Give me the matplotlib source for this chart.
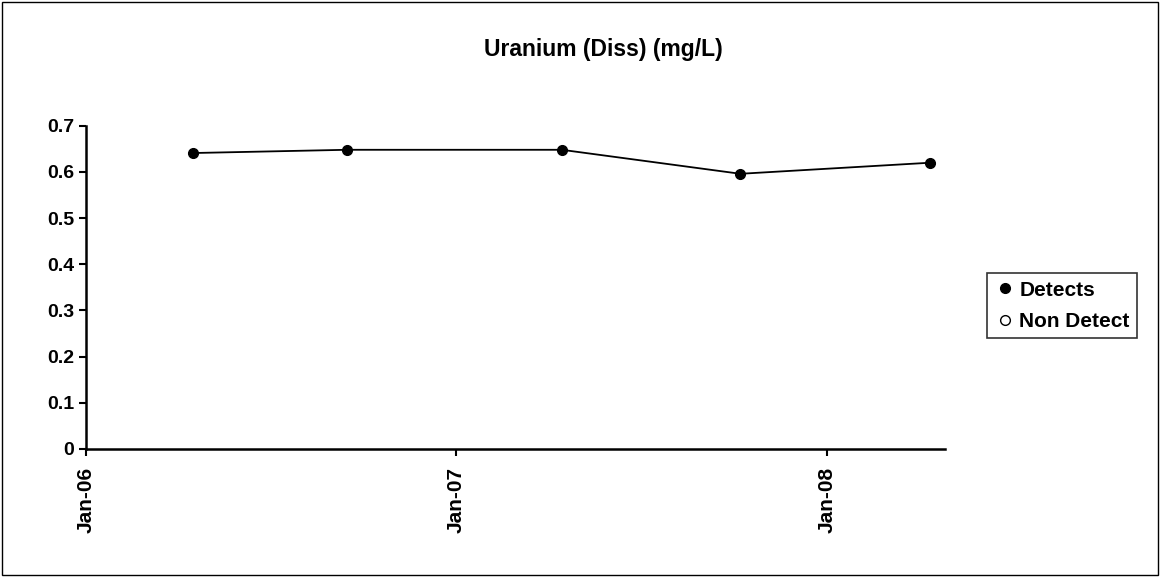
import matplotlib
matplotlib.use('Agg')
import matplotlib.pyplot as plt
import matplotlib.dates as mdates
from matplotlib.lines import Line2D
import numpy as np

plt.rcParams['font.family'] = ['Liberation Sans', 'DejaVu Sans']
plt.rcParams['font.weight'] = 'bold'

# 数据
dates = np.array(['2006-04-17', '2006-09-15', '2007-04-15', '2007-10-08', '2008-04-12'],
                 dtype='datetime64[D]')
uranium = [0.641, 0.648, 0.648, 0.596, 0.620]
x_ticks = np.array(['2006-01-01', '2007-01-01', '2008-01-01'], dtype='datetime64[D]')

fig = plt.figure(figsize=(11.6, 5.77), dpi=100)
ax = fig.add_axes([0.074, 0.222, 0.741, 0.56])

ax.plot(dates, uranium, 'k-', linewidth=1.3, marker='o', markersize=7)

ax.set_xlim(np.datetime64('2006-01-01'), np.datetime64('2008-04-27'))
ax.set_ylim(0, 0.7)
ax.set_xticks(x_ticks)
ax.xaxis.set_major_formatter(mdates.DateFormatter('%b-%y'))
ax.set_yticks(np.arange(0, 0.71, 0.1))
ax.set_yticklabels(['0'] + [f'{v:.1f}' for v in np.arange(0.1, 0.71, 0.1)])
plt.setp(ax.get_xticklabels(), rotation=90)
ax.tick_params(labelsize=14, width=1.5, length=5, direction='out')
ax.tick_params(axis='x', labelsize=15, pad=8)

for s in ['top', 'right']:
    ax.spines[s].set_visible(False)
for s in ['left', 'bottom']:
    ax.spines[s].set_linewidth(1.8)

fig.suptitle('Uranium (Diss) (mg/L)', x=0.52, y=0.935, fontsize=16.5, fontweight='bold')

handles = [Line2D([], [], marker='o', color='k', linestyle='none', markersize=7),
           Line2D([], [], marker='o', color='k', markerfacecolor='white', linestyle='none',
                  markersize=7)]
leg = fig.legend(handles, ['Detects', 'Non Detect'], loc='center left',
                 bbox_to_anchor=(0.851, 0.47), fontsize=15, frameon=True,
                 fancybox=False, handletextpad=0.2, borderpad=0.35, labelspacing=0.6,
                 handlelength=1.0, borderaxespad=0)
leg.get_frame().set_edgecolor('black')
leg.get_frame().set_linewidth(1.2)

# 外框
fig.patches.append(plt.Rectangle((0.002, 0.003), 0.996, 0.994, transform=fig.transFigure,
                                 fill=False, edgecolor='black', linewidth=1.0))

fig.savefig('out.png', dpi=100)
